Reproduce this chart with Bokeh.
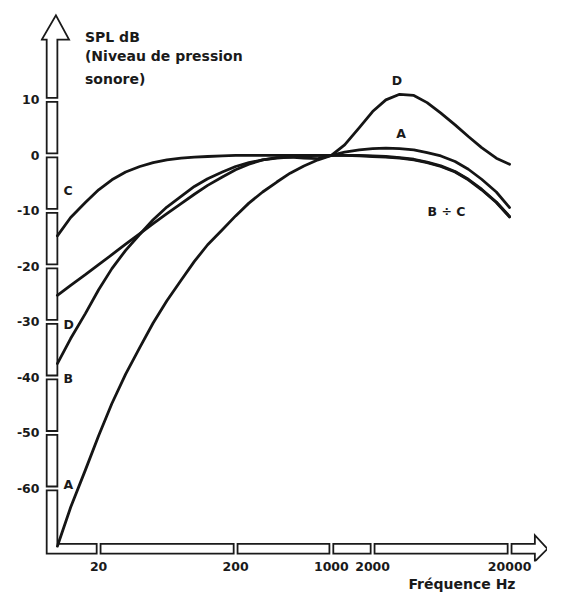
import math
from bokeh.plotting import figure
from bokeh.models import Range1d, FixedTicker, Label, Title
from bokeh.embed import file_html
from bokeh.resources import INLINE

# ---- data (frequency weighting curves) ----
freqs = [10, 12.5, 16, 20, 25, 31.5, 40, 50, 63, 80, 100, 125, 160, 200, 250,
         315, 400, 500, 630, 800, 1000, 1250, 1600, 2000, 2500, 3150, 4000,
         5000, 6300, 8000, 10000, 12500, 16000, 20000]
curve_A = [-70.4, -63.4, -56.7, -50.5, -44.7, -39.4, -34.6, -30.2, -26.2, -22.5,
           -19.1, -16.1, -13.4, -10.9, -8.6, -6.6, -4.8, -3.2, -1.9, -0.8, 0.0,
           0.6, 1.0, 1.2, 1.3, 1.2, 1.0, 0.5, -0.1, -1.1, -2.5, -4.3, -6.6, -9.4]
curve_B = [-37.5, -33.0, -28.5, -24.2, -20.4, -17.1, -14.2, -11.6, -9.3, -7.4,
           -5.6, -4.2, -3.0, -2.0, -1.3, -0.8, -0.5, -0.3, -0.1, 0.0, 0.0,
           0.0, 0.0, -0.1, -0.2, -0.4, -0.7, -1.2, -1.9, -2.9, -4.3, -6.1, -8.4, -11.0]
curve_C = [-14.5, -11.2, -8.5, -6.2, -4.4, -3.0, -2.0, -1.3, -0.8, -0.5,
           -0.3, -0.2, -0.1, 0.0, 0.0, 0.0, 0.0, 0.0, 0.0, 0.0, 0.0,
           0.0, -0.1, -0.2, -0.3, -0.5, -0.8, -1.3, -2.0, -3.0, -4.4, -6.2, -8.5, -11.1]
curve_D = [-25.2, -23.4, -21.5, -19.7, -17.9, -16.0, -14.1, -12.3, -10.5, -8.7,
           -7.0, -5.4, -3.9, -2.6, -1.6, -0.8, -0.4, -0.3, -0.5, -0.6, 0.0,
           1.9, 5.0, 7.9, 10.0, 11.0, 10.8, 9.5, 7.6, 5.5, 3.4, 1.4, -0.5, -1.6]

y_ticks = [10, 0, -10, -20, -30, -40, -50, -60]
y_tick_labels = ["10", "0", "-10", "-20", "-30", "-40", "-50", "-60"]
x_ticks = [20, 200, 1000, 2000, 20000]
x_tick_labels = ["20", "200", "1000", "2000", "20000"]
axis_floor_db = -70

# ---- layout ----
W, H = 547, 596
ML, MB = 40, 35
FW, FH = W - ML, H - MB
X0, X1 = 7.53, 37820
Y0, Y1 = -73.16, 27.90
DEC = FW / math.log10(X1 / X0)
DBP = FH / (Y1 - Y0)
S = 0.972


def xs(f, px):
    return f * 10 ** (px * S / DEC)


def ys(v, px):
    return v + px * S / DBP


INK = "#1a1a1a"
FONT = "DejaVu Sans"

p = figure(width=W, height=H, x_axis_type="log",
           x_range=Range1d(X0, X1), y_range=Range1d(Y0, Y1),
           output_backend="svg", toolbar_location=None, title=None,
           min_border_left=ML, min_border_right=0, min_border_top=0,
           min_border_bottom=MB, background_fill_color="white",
           border_fill_color="white", outline_line_color=None)
p.grid.visible = False

p.xaxis.ticker = FixedTicker(ticks=x_ticks)
p.yaxis.ticker = FixedTicker(ticks=y_ticks)
p.xaxis.major_label_overrides = {t: s for t, s in zip(x_ticks, x_tick_labels)}
p.yaxis.major_label_overrides = {t: s for t, s in zip(y_ticks, y_tick_labels)}
for ax in (p.xaxis, p.yaxis):
    ax.axis_line_color = None
    ax.major_tick_in = 0
    ax.major_tick_out = 0
    ax.minor_tick_in = 0
    ax.minor_tick_out = 0
    ax.major_label_text_font = FONT
    ax.major_label_text_font_style = "bold"
    ax.major_label_text_font_size = "12.5px"
    ax.major_label_text_color = INK
p.xaxis.major_label_standoff = 0
p.yaxis.major_label_standoff = 1

p.add_layout(Title(text="Fréquence Hz", align="right", offset=32, standoff=0,
                   text_font=FONT, text_font_style="bold", text_font_size="14px",
                   text_color=INK), "below")

# ---- hollow arrow axes ----
AX_F = freqs[0]
OUT_Y, OUT_X, GAP = 11, 10, 4
xl = xs(AX_F, -OUT_Y)
yb = ys(axis_floor_db, -OUT_X)
sty = dict(fill_color="white", line_color=INK, line_width=1.8, line_join="miter")

yt = sorted(y_ticks)
p.quad(left=[xl] * (len(yt) - 1), right=[AX_F] * (len(yt) - 1),
       bottom=[ys(v, GAP / 2) for v in yt[:-1]],
       top=[ys(v, -GAP / 2) for v in yt[1:]], **sty)

top = yt[-1]
base, tip = ys(top, 62), ys(top, 87)
p.patch([xl, xl, xs(AX_F, -OUT_Y - 5), xs(AX_F, -1.5), xs(AX_F, 12), AX_F, AX_F],
        [ys(top, GAP / 2), base, base, tip, base, base, ys(top, GAP / 2)], **sty)

x20 = xs(x_ticks[0], -GAP / 2)
p.patch([xl, xl, x20, x20, AX_F, AX_F],
        [ys(yt[0], -GAP / 2), yb, yb, axis_floor_db, axis_floor_db, ys(yt[0], -GAP / 2)], **sty)

p.quad(left=[xs(v, GAP / 2) for v in x_ticks[:-1]],
       right=[xs(v, -GAP / 2) for v in x_ticks[1:]],
       top=[axis_floor_db] * (len(x_ticks) - 1), bottom=[yb] * (len(x_ticks) - 1), **sty)

last = x_ticks[-1]
bx, tx = xs(last, 26), xs(last, 39)
p.patch([xs(last, GAP / 2), bx, bx, tx, bx, bx, xs(last, GAP / 2)],
        [axis_floor_db, axis_floor_db, ys(axis_floor_db, 9), ys(axis_floor_db, -OUT_X / 2),
         ys(axis_floor_db, -OUT_X - 8), yb, yb], **sty)

# ---- curves ----
for vals in (curve_C, curve_B, curve_D, curve_A):
    p.line(freqs, vals, line_width=2.8, line_color="#151515",
           line_join="round", line_cap="round")

# ---- texts ----
def lab(x, y, text, size="12.5px", align="center", baseline="middle"):
    p.add_layout(Label(x=x, y=y, text=text, text_font=FONT, text_font_style="bold",
                       text_font_size=size, text_color=INK, text_align=align,
                       text_baseline=baseline))


lab(15.9, 21.4, "SPL dB", "14px", "left")
lab(15.9, 17.9, "(Niveau de pression", "14px", "left")
lab(15.9, 13.7, "sonore)", "14px", "left")

lab(11.1, -6.3, "C", align="left")
lab(11.1, -30.4, "D", align="left")
lab(11.1, -40.2, "B", align="left")
lab(11.1, -59.3, "A", align="left")

lab(3010, 13.5, "D")
lab(3230, 3.9, "A")
lab(6930, -10.2, "B ÷ C")

open("out.html", "w").write(file_html(p, INLINE))
